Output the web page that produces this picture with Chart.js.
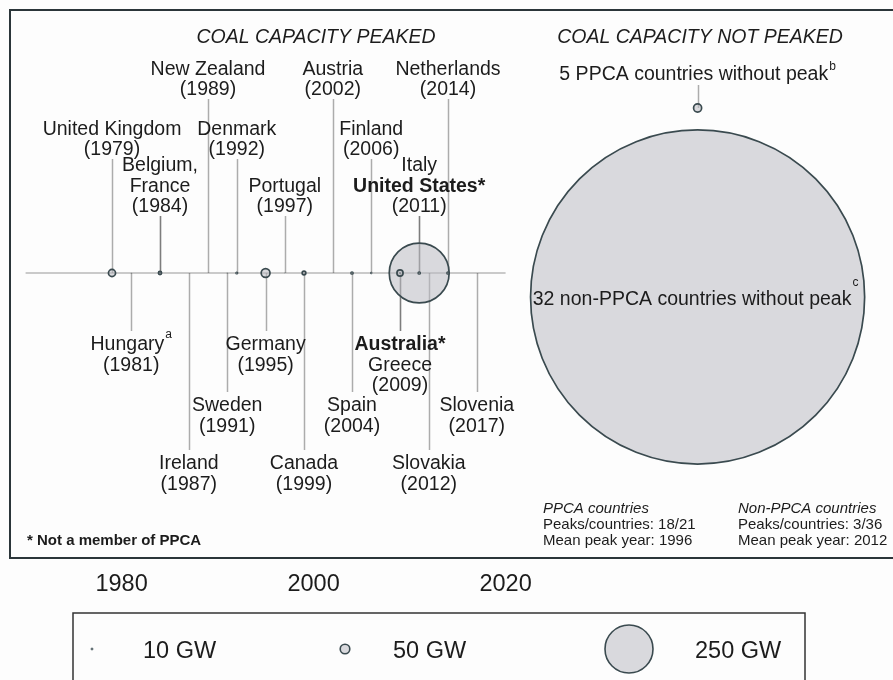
<!DOCTYPE html>
<html>
<head>
<meta charset="utf-8">
<title>Coal capacity peaks</title>
<script src="https://cdn.jsdelivr.net/npm/chart.js@4.4.1/dist/chart.umd.min.js"></script>
<style>
  html, body { margin: 0; padding: 0; background: #fdfdfd; }
  #wrap { position: relative; width: 893px; height: 680px; }
</style>
</head>
<body>
<div id="wrap"><canvas id="peakChart" width="893" height="680"></canvas></div>
<script>
/* =======================================================
   Coal capacity peaks – PPCA / non-PPCA countries
   Sections:
     1. Data
     2. Layout
     3. Helpers
     4. Plugins (timeline, labels, legend)
     5. Chart
======================================================= */

/* -------------------------------------------------------
   1. DATA
------------------------------------------------------- */
const countries = [
  'United Kingdom', 'Hungary', 'Belgium', 'France', 'Ireland', 'New Zealand',
  'Sweden', 'Denmark', 'Germany', 'Portugal', 'Canada', 'Austria', 'Spain',
  'Finland', 'Australia', 'Greece', 'Italy', 'United States', 'Slovakia',
  'Netherlands', 'Slovenia'
];
const peakYears = [
  1979, 1981, 1984, 1984, 1987, 1989,
  1991, 1992, 1995, 1997, 1999, 2002, 2004,
  2006, 2009, 2009, 2011, 2011, 2012,
  2014, 2017
];
const peakCapacityGW = [
  37, 2, 6, 17, 1, 1,
  3, 11, 46, 2, 19, 1, 13,
  9, 32, 5, 13, 312, 1,
  13, 1
];
const ppcaMember = [
  true, true, true, true, true, true,
  true, true, true, true, true, true, true,
  true, false, true, true, false, true,
  true, true
];
const footnoteMarks = { 'Hungary': 'a' };

const notPeakedGroups = ['5 PPCA countries without peak', '32 non-PPCA countries without peak'];
const notPeakedGW     = [42, 1740];
const notPeakedMarks  = ['b', 'c'];

const yearTicks = [1980, 2000, 2020];
const legendGW  = [10, 50, 250];

const summaryTitles   = ['PPCA countries', 'Non-PPCA countries'];
const summaryPeaks    = ['18/21', '3/36'];
const summaryMeanYear = [1996, 2012];

/* -------------------------------------------------------
   2. LAYOUT
------------------------------------------------------- */
const PX_PER_GW   = 0.096;
const AXIS_Y      = 273;
const AXIS_FROM   = 1970;
const AXIS_TO     = 2020;
const NOT_PEAKED_X = 2040;
const NOT_PEAKED_Y = [108, 297];
const LINE_H      = 20.5;

// + rows above the timeline, - rows below (1 = closest)
const labelRow = {
  1979: 2, 1981: -1, 1984: 1, 1987: -3, 1989: 3, 1991: -2, 1992: 2,
  1995: -1, 1997: 1, 1999: -3, 2002: 3, 2004: -2, 2006: 2, 2009: -1,
  2011: 1, 2012: -3, 2014: 3, 2017: -2
};
// above: baseline of last line, below: baseline of first line
const rowBaseline = { 1: 212, 2: 155, 3: 95, '-1': 350, '-2': 411, '-3': 469 };
const supRaise = { a: 12, b: 10, c: 19 };

const FONT_FAMILY = '"Liberation Sans", Arial, sans-serif';
const FONT      = '19.5px ' + FONT_FAMILY;
const FONT_B    = 'bold 19.5px ' + FONT_FAMILY;
const FONT_I    = 'italic 19.5px ' + FONT_FAMILY;
const FONT_SUP  = '12px ' + FONT_FAMILY;
const FONT_BIG  = '23.5px ' + FONT_FAMILY;
const FONT_SM   = '15px ' + FONT_FAMILY;
const FONT_SM_I = 'italic 15px ' + FONT_FAMILY;
const FONT_SM_B = 'bold 15px ' + FONT_FAMILY;

const TEXT_COLOR   = '#1c1c1c';
const CIRCLE_EDGE  = '#3a4a4f';
const CIRCLE_FILL  = 'rgba(188,188,195,0.55)';
const STEM_COLOR   = 'rgba(60,60,60,0.42)';
const AXIS_COLOR   = '#b9b9b9';

/* -------------------------------------------------------
   3. HELPERS
------------------------------------------------------- */
const radiusFor = gw => gw * PX_PER_GW;

// group countries sharing a peak year into one label
const labelGroups = [];
countries.forEach((name, i) => {
  let g = labelGroups.find(g => g.year === peakYears[i]);
  if (!g) { g = { year: peakYears[i], idx: [] }; labelGroups.push(g); }
  g.idx.push(i);
});
labelGroups.forEach(g => {
  g.lines = g.idx.map((i, k) => {
    const next = g.idx[k + 1];
    const comma = next !== undefined && ppcaMember[i] && ppcaMember[next] ? ',' : '';
    return {
      text: countries[i] + (ppcaMember[i] ? '' : '*') + comma,
      bold: !ppcaMember[i],
      sup: footnoteMarks[countries[i]]
    };
  });
  g.lines.push({ text: '(' + g.year + ')' });
  g.row = labelRow[g.year];
});

function drawLine(ctx, x, y, ln, font) {
  ctx.font = ln.bold ? FONT_B : (font || FONT);
  const w = ctx.measureText(ln.text).width;
  let supW = 0;
  if (ln.sup) { ctx.font = FONT_SUP; supW = ctx.measureText(ln.sup).width + 1; }
  const left = x - (w + supW) / 2;
  ctx.font = ln.bold ? FONT_B : (font || FONT);
  ctx.fillText(ln.text, left, y);
  if (ln.sup) {
    ctx.font = FONT_SUP;
    ctx.fillText(ln.sup, left + w + 1, y - supRaise[ln.sup]);
  }
}

/* -------------------------------------------------------
   4. PLUGINS
------------------------------------------------------- */
const backdrop = {
  id: 'backdrop',
  beforeDraw(chart) {
    const ctx = chart.ctx;
    ctx.save();
    ctx.fillStyle = '#fdfdfd';
    ctx.fillRect(0, 0, chart.width, chart.height);
    ctx.restore();
  }
};

const timeline = {
  id: 'timeline',
  beforeDatasetsDraw(chart) {
    const { ctx, scales: { x, y } } = chart;
    ctx.save();

    // outer frame
    ctx.strokeStyle = '#2b3539';
    ctx.lineWidth = 2;
    ctx.strokeRect(10, 10, 900, 548);

    // time axis
    ctx.strokeStyle = AXIS_COLOR;
    ctx.lineWidth = 1.5;
    ctx.beginPath();
    ctx.moveTo(x.getPixelForValue(AXIS_FROM), y.getPixelForValue(AXIS_Y));
    ctx.lineTo(x.getPixelForValue(AXIS_TO), y.getPixelForValue(AXIS_Y));
    ctx.stroke();

    // stems, one per country so shared labels come out darker
    ctx.strokeStyle = STEM_COLOR;
    ctx.lineWidth = 1.5;
    labelGroups.forEach(g => {
      const px = Math.round(x.getPixelForValue(g.year)) + 0.5;
      let y0, y1;
      if (g.row > 0) {
        y0 = y.getPixelForValue(rowBaseline[g.row] + 4);
        y1 = y.getPixelForValue(AXIS_Y);
      } else {
        y0 = y.getPixelForValue(AXIS_Y);
        y1 = y.getPixelForValue(rowBaseline[g.row] - 19);
      }
      g.idx.forEach(() => {
        ctx.beginPath();
        ctx.moveTo(px, y0);
        ctx.lineTo(px, y1);
        ctx.stroke();
      });
    });

    // stem for the small not-peaked circle
    const nx = Math.round(x.getPixelForValue(NOT_PEAKED_X)) + 0.5;
    ctx.beginPath();
    ctx.moveTo(nx, y.getPixelForValue(85));
    ctx.lineTo(nx, y.getPixelForValue(NOT_PEAKED_Y[0]));
    ctx.stroke();
    ctx.restore();
  }
};

const annotations = {
  id: 'annotations',
  afterDatasetsDraw(chart) {
    const { ctx, scales: { x, y } } = chart;
    ctx.save();
    ctx.fillStyle = TEXT_COLOR;
    ctx.textBaseline = 'alphabetic';
    ctx.textAlign = 'left';

    // country labels
    labelGroups.forEach(g => {
      const px = x.getPixelForValue(g.year);
      const n = g.lines.length;
      g.lines.forEach((ln, k) => {
        const base = g.row > 0
          ? rowBaseline[g.row] - (n - 1 - k) * LINE_H
          : rowBaseline[g.row] + k * LINE_H;
        drawLine(ctx, px, y.getPixelForValue(base), ln);
      });
    });

    // panel titles
    ctx.textAlign = 'center';
    ctx.font = FONT_I;
    ctx.fillText('COAL CAPACITY PEAKED', 316, 43);
    ctx.fillText('COAL CAPACITY NOT PEAKED', 700, 43);
    ctx.textAlign = 'left';

    // not-peaked labels
    const nx = x.getPixelForValue(NOT_PEAKED_X);
    drawLine(ctx, nx, 80, { text: notPeakedGroups[0], sup: notPeakedMarks[0] });
    drawLine(ctx, nx - 2, y.getPixelForValue(NOT_PEAKED_Y[1]) + 8,
             { text: notPeakedGroups[1], sup: notPeakedMarks[1] });

    // summary blocks
    [543, 738].forEach((sx, i) => {
      ctx.font = FONT_SM_I;
      ctx.fillText(summaryTitles[i], sx, 513);
      ctx.font = FONT_SM;
      ctx.fillText('Peaks/countries: ' + summaryPeaks[i], sx, 529);
      ctx.fillText('Mean peak year: ' + summaryMeanYear[i], sx, 545);
    });

    ctx.font = FONT_SM_B;
    ctx.fillText('* Not a member of PPCA', 27, 545);

    // year ticks under the frame
    ctx.font = FONT_BIG;
    ctx.textAlign = 'center';
    yearTicks.forEach(t => ctx.fillText(String(t), x.getPixelForValue(t), 591));

    // size legend
    ctx.textAlign = 'left';
    ctx.strokeStyle = '#333';
    ctx.lineWidth = 1.5;
    ctx.strokeRect(73, 613, 732, 100);
    const legendX = [92, 345, 629];
    const legendTextX = [143, 393, 695];
    legendGW.forEach((gw, i) => {
      const r = radiusFor(gw);
      ctx.beginPath();
      ctx.arc(legendX[i], 649, r, 0, Math.PI * 2);
      ctx.fillStyle = CIRCLE_FILL;
      ctx.fill();
      ctx.lineWidth = Math.min(1.6, r);
      ctx.strokeStyle = CIRCLE_EDGE;
      ctx.stroke();
      ctx.fillStyle = TEXT_COLOR;
      ctx.font = FONT_BIG;
      ctx.fillText(gw + ' GW', legendTextX[i], 658);
    });
    ctx.restore();
  }
};

/* -------------------------------------------------------
   5. CHART
------------------------------------------------------- */
function buildChart() {
  const canvas = document.getElementById('peakChart');
  const ctx = canvas.getContext('2d');

  const peaked = countries
    .map((c, i) => ({ x: peakYears[i], y: AXIS_Y, r: radiusFor(peakCapacityGW[i]), name: c }))
    .sort((a, b) => b.r - a.r);

  const notPeaked = notPeakedGW.map((gw, i) => ({
    x: NOT_PEAKED_X, y: NOT_PEAKED_Y[i], r: radiusFor(gw), name: notPeakedGroups[i]
  }));

  const edgeWidth = c => (c.raw ? Math.min(1.7, Math.max(0.1, c.raw.r)) : 1.5);

  new Chart(ctx, {
    type: 'bubble',
    data: {
      datasets: [
        {
          label: 'Not peaked',
          data: notPeaked,
          backgroundColor: CIRCLE_FILL,
          borderColor: CIRCLE_EDGE,
          borderWidth: edgeWidth,
          clip: false
        },
        {
          label: 'Peaked',
          data: peaked,
          backgroundColor: CIRCLE_FILL,
          borderColor: CIRCLE_EDGE,
          borderWidth: edgeWidth,
          clip: false
        }
      ]
    },
    options: {
      responsive: false,
      animation: false,
      devicePixelRatio: 1,
      events: [],
      layout: { padding: 0, autoPadding: false },
      plugins: {
        legend: { display: false },
        tooltip: { enabled: false }
      },
      scales: {
        x: {
          type: 'linear',
          display: false,
          min: 1980 - 121.6 / 9.6,
          max: 1980 - 121.6 / 9.6 + 893 / 9.6
        },
        y: {
          type: 'linear',
          display: false,
          reverse: true,
          min: 0,
          max: 680
        }
      }
    },
    plugins: [backdrop, timeline, annotations]
  });
}

window.addEventListener('load', buildChart);
</script>
</body>
</html>
